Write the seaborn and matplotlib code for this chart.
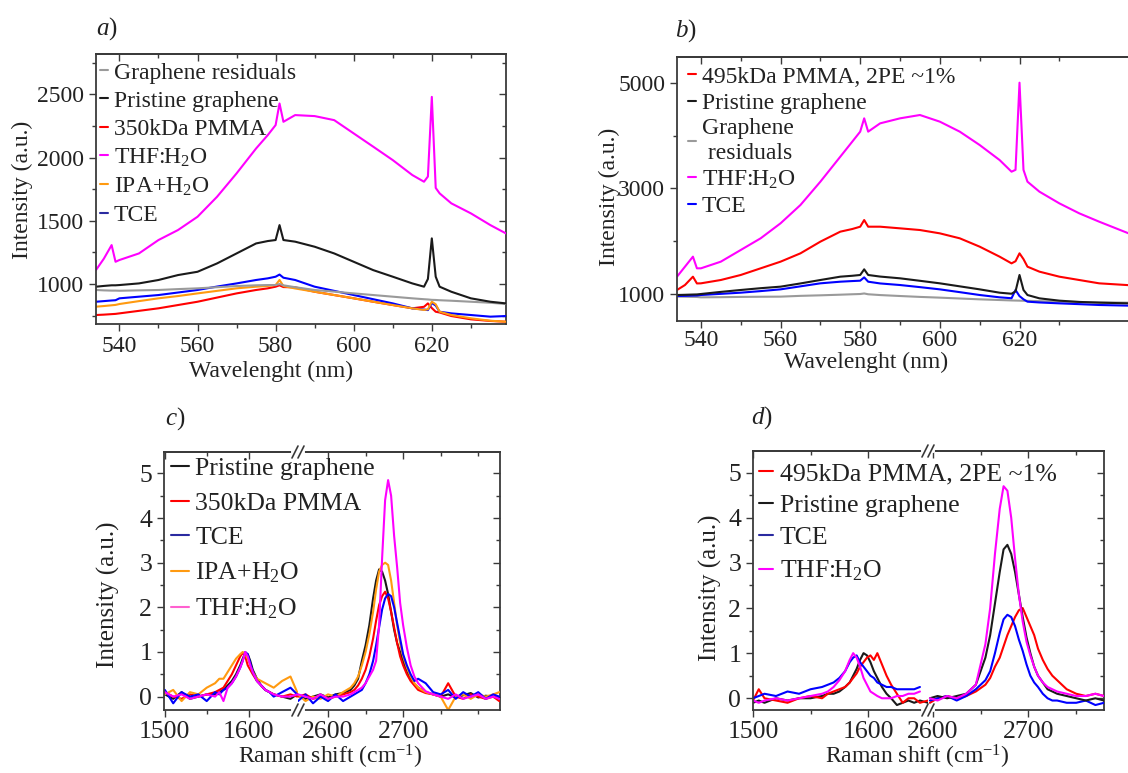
import numpy as np
import matplotlib
matplotlib.use("Agg")
import matplotlib.pyplot as plt
import seaborn as sns
from matplotlib.ticker import FixedLocator
from matplotlib.lines import Line2D

# ---------------- data ----------------
# panel a : PL spectra
A_WL = [534, 536, 538, 539, 540, 545, 550, 555, 560, 565, 570, 575, 578, 580, 581, 582,
        585, 590, 595, 600, 605, 610, 615, 618, 619, 620, 621, 622, 625, 630, 635, 639]
A_THF = [1111, 1200, 1308, 1176, 1190, 1242, 1348, 1427, 1532, 1690, 1875, 2072, 2178, 2257, 2428, 2283,
         2336, 2328, 2296, 2191, 2086, 1980, 1862, 1809, 1850, 2480, 1760, 1717, 1638, 1559, 1466, 1400]
A_PRIS = [979, 985, 990, 990, 992, 1005, 1032, 1071, 1097, 1163, 1242, 1321, 1340, 1348, 1466, 1348,
          1335, 1295, 1242, 1176, 1110, 1058, 1005, 979, 1040, 1361, 1058, 979, 939, 887, 860, 847]
A_RES = [953, 950, 948, 948, 947, 950, 953, 960, 966, 975, 984, 990, 992, 992, 1000, 990,
         975, 953, 940, 926, 913, 900, 887, 880, 878, 875, 874, 872, 868, 860, 852, 842]
A_TCE = [860, 865, 870, 872, 887, 900, 913, 933, 953, 980, 1005, 1032, 1045, 1058, 1075, 1050,
         1032, 979, 946, 913, 880, 847, 808, 798, 794, 850, 830, 781, 768, 755, 742, 747]
A_IPA = [821, 826, 832, 835, 842, 865, 887, 905, 926, 946, 966, 979, 985, 992, 1032, 984,
         965, 939, 913, 887, 860, 834, 808, 795, 800, 860, 840, 781, 755, 729, 710, 702]
A_PMMA = [755, 758, 762, 764, 768, 788, 808, 834, 860, 893, 926, 953, 966, 979, 990, 976,
          974, 939, 913, 887, 860, 834, 808, 820, 847, 810, 781, 775, 747, 721, 708, 702]

# panel b : PL spectra
B_WL = [534, 536, 538, 539, 540, 545, 550, 555, 560, 565, 570, 575, 578, 580, 581, 582,
        585, 590, 595, 600, 605, 610, 615, 618, 619, 620, 621, 622, 625, 630, 635, 640, 649]
B_THF = [1328, 1517, 1707, 1486, 1486, 1612, 1833, 2054, 2338, 2685, 3126, 3599, 3883, 4073, 4325, 4073,
         4230, 4325, 4388, 4262, 4073, 3820, 3536, 3315, 3350, 5000, 3350, 3126, 2937, 2716, 2527, 2369, 2100]
B_PMMA = [1076, 1170, 1328, 1200, 1202, 1265, 1360, 1486, 1612, 1770, 1991, 2180, 2230, 2274, 2400, 2274,
          2274, 2243, 2211, 2148, 2054, 1896, 1707, 1580, 1620, 1770, 1660, 1517, 1423, 1328, 1265, 1202, 1160]
B_PRIS = [981, 985, 990, 992, 1000, 1040, 1076, 1110, 1139, 1200, 1265, 1328, 1345, 1360, 1467, 1360,
          1330, 1297, 1250, 1202, 1145, 1088, 1025, 1005, 1050, 1360, 1076, 981, 918, 874, 850, 836, 820]
B_TCE = [962, 965, 970, 972, 981, 1003, 1025, 1055, 1088, 1145, 1202, 1233, 1245, 1252, 1315, 1233,
         1200, 1170, 1130, 1088, 1035, 981, 937, 920, 1076, 960, 900, 855, 840, 823, 808, 792, 777]
B_RES = [950, 948, 945, 944, 937, 940, 945, 948, 950, 965, 975, 987, 995, 1000, 1010, 995,
         980, 962, 945, 931, 915, 899, 886, 878, 876, 874, 872, 870, 865, 855, 848, 842, 834]

# panel c : Raman, G band and 2D band
C_G = [1500, 1510, 1520, 1530, 1540, 1550, 1560, 1565, 1570, 1575, 1580, 1585, 1590, 1593, 1596,
       1599, 1602, 1605, 1610, 1615, 1620, 1625, 1630, 1640, 1650, 1658]
C_G_PRIS = [0.05, -0.05, 0.1, -0.05, 0.0, 0.05, 0.05, 0.1, 0.15, 0.25, 0.35, 0.5, 0.7, 0.85, 0.97,
            0.95, 0.8, 0.6, 0.4, 0.25, 0.15, 0.1, 0.05, 0.0, -0.05, 0.05]
C_G_PMMA = [0.1, 0.0, -0.05, 0.05, 0.0, 0.05, 0.1, 0.15, 0.2, 0.35, 0.5, 0.7, 0.9, 0.98, 0.9,
            0.7, 0.6, 0.5, 0.35, 0.25, 0.15, 0.1, 0.05, 0.0, 0.05, 0.0]
C_G_TCE = [0.15, -0.15, 0.1, 0.0, 0.05, -0.1, 0.1, 0.05, 0.15, 0.2, 0.3, 0.45, 0.65, 0.8, 1.0,
           0.95, 0.75, 0.55, 0.35, 0.25, 0.15, 0.1, 0.0, 0.1, 0.2, 0.05]
C_G_IPA = [0.05, 0.15, -0.1, 0.1, 0.05, 0.2, 0.3, 0.4, 0.4, 0.55, 0.7, 0.85, 0.95, 1.0, 0.95,
           0.85, 0.7, 0.55, 0.4, 0.35, 0.3, 0.25, 0.2, 0.35, 0.45, 0.1]
C_G_THF = [0.1, 0.0, 0.05, -0.05, 0.0, 0.05, 0.0, 0.1, -0.1, 0.2, 0.3, 0.45, 0.65, 0.8, 1.0,
           0.9, 0.7, 0.55, 0.35, 0.25, 0.15, 0.1, 0.05, 0.0, 0.0, 0.05]

C_2D = [2560, 2570, 2580, 2590, 2600, 2610, 2620, 2630, 2635, 2640, 2645, 2650, 2655, 2660,
        2664, 2668, 2672, 2676, 2680, 2684, 2688, 2692, 2696, 2700, 2705, 2710, 2715, 2720,
        2730, 2740, 2750, 2760, 2770, 2780, 2790, 2800, 2810, 2820, 2828]
C_2D_PRIS = [0.02, -0.05, 0.0, 0.05, -0.02, 0.05, 0.08, 0.15, 0.25, 0.4, 0.8, 1.15, 1.6, 2.2,
             2.6, 2.85, 2.8, 2.6, 2.3, 1.9, 1.5, 1.2, 1.0, 0.8, 0.55, 0.4, 0.28, 0.2,
             0.1, 0.05, 0.0, 0.05, -0.02, 0.03, 0.08, -0.02, 0.02, 0.0, -0.03]
C_2D_PMMA = [0.0, 0.05, -0.05, 0.0, -0.05, 0.0, 0.05, 0.1, 0.15, 0.25, 0.4, 0.6, 0.9, 1.3,
             1.7, 2.05, 2.25, 2.35, 2.2, 1.9, 1.55, 1.2, 0.9, 0.7, 0.5, 0.35, 0.25, 0.15,
             0.08, 0.05, 0.0, 0.3, 0.0, -0.05, 0.05, 0.0, -0.05, 0.0, -0.1]
C_2D_TCE = [-0.1, 0.05, -0.15, 0.0, -0.1, 0.05, -0.1, 0.0, 0.05, 0.1, 0.15, 0.3, 0.5, 0.8,
            1.15, 1.55, 1.95, 2.2, 2.3, 2.25, 2.0, 1.65, 1.3, 0.95, 0.7, 0.5, 0.35, 0.4,
            0.3, 0.1, 0.05, 0.15, -0.05, 0.1, 0.0, 0.1, -0.05, 0.05, 0.0]
C_2D_IPA = [0.05, -0.1, 0.0, -0.05, 0.05, 0.0, 0.1, 0.2, 0.3, 0.45, 0.7, 1.0, 1.4, 1.9,
            2.4, 2.8, 2.95, 3.0, 2.95, 2.6, 2.1, 1.6, 1.2, 0.9, 0.65, 0.45, 0.3, 0.2,
            0.1, 0.05, 0.0, -0.3, 0.0, 0.05, -0.05, 0.05, 0.0, 0.05, 0.1]
C_2D_THF = [0.05, 0.0, -0.05, 0.05, -0.05, 0.0, 0.0, 0.05, 0.1, 0.15, 0.2, 0.3, 0.45, 0.6,
            0.8, 1.6, 3.1, 4.4, 4.85, 4.5, 3.6, 2.9, 2.1, 1.6, 1.1, 0.7, 0.45, 0.3,
            0.12, 0.05, 0.0, -0.05, 0.05, -0.05, 0.0, 0.05, -0.05, 0.0, -0.05]

# panel d : Raman, G band and 2D band
D_G = [1500, 1505, 1510, 1520, 1530, 1540, 1550, 1560, 1565, 1570, 1575, 1580, 1584, 1587, 1590,
       1593, 1596, 1599, 1602, 1605, 1608, 1612, 1616, 1620, 1625, 1630, 1635, 1640, 1645, 1652]
D_G_PMMA = [-0.05, 0.2, 0.0, -0.05, -0.1, 0.0, 0.05, 0.0, 0.1, 0.15, 0.2, 0.25, 0.35, 0.45, 0.55,
            0.7, 0.8, 0.9, 0.95, 0.85, 1.0, 0.75, 0.5, 0.3, 0.1, -0.1, 0.0, 0.0, -0.1, -0.05]
D_G_PRIS = [-0.1, -0.05, -0.1, 0.0, -0.05, 0.0, 0.0, 0.05, 0.1, 0.1, 0.15, 0.25, 0.35, 0.5, 0.65,
            0.85, 1.0, 0.95, 0.8, 0.6, 0.45, 0.25, 0.1, 0.0, -0.15, -0.1, -0.05, -0.1, -0.05, -0.1]
D_G_TCE = [0.0, 0.05, 0.1, 0.05, 0.15, 0.1, 0.2, 0.25, 0.3, 0.35, 0.45, 0.6, 0.8, 0.9, 0.95,
           0.8, 0.7, 0.6, 0.5, 0.45, 0.35, 0.3, 0.25, 0.25, 0.2, 0.2, 0.2, 0.2, 0.25, np.nan]
D_G_THF = [-0.05, -0.1, -0.05, 0.0, -0.05, 0.0, 0.05, 0.1, 0.15, 0.25, 0.4, 0.6, 0.85, 1.0, 0.9,
           0.7, 0.45, 0.3, 0.15, 0.1, 0.05, 0.0, 0.0, 0.0, 0.05, 0.05, 0.1, 0.1, 0.15, np.nan]

D_2D = [2597, 2605, 2615, 2625, 2635, 2645, 2655, 2660, 2665, 2670, 2674, 2678, 2682, 2686, 2690,
        2694, 2698, 2702, 2706, 2710, 2715, 2720, 2725, 2730, 2740, 2750, 2760, 2770, 2779]
D_2D_THF = [0.0, -0.05, 0.05, 0.0, 0.1, 0.3, 1.2, 2.0, 3.2, 4.2, 4.7, 4.6, 4.0, 3.1, 2.3,
            1.7, 1.25, 0.95, 0.7, 0.5, 0.35, 0.25, 0.2, 0.15, 0.1, 0.05, 0.05, 0.1, 0.05]
D_2D_PRIS = [0.0, 0.05, 0.0, 0.05, 0.1, 0.3, 0.9, 1.4, 2.1, 2.8, 3.3, 3.4, 3.2, 2.8, 2.3,
             1.8, 1.35, 1.0, 0.7, 0.5, 0.35, 0.2, 0.15, 0.1, 0.05, 0.0, -0.05, 0.0, -0.05]
D_2D_TCE = [-0.05, 0.0, 0.05, -0.05, 0.05, 0.2, 0.4, 0.6, 1.0, 1.45, 1.75, 1.85, 1.8, 1.6, 1.3,
            1.05, 0.75, 0.5, 0.35, 0.25, 0.1, 0.0, -0.05, -0.05, -0.1, -0.1, -0.05, -0.15, -0.1]
D_2D_PMMA = [-0.1, 0.0, 0.05, 0.0, 0.05, 0.15, 0.3, 0.45, 0.7, 0.9, 1.15, 1.4, 1.6, 1.8, 1.95,
             2.0, 1.8, 1.6, 1.4, 1.1, 0.85, 0.65, 0.5, 0.4, 0.2, 0.1, 0.05, 0.1, 0.05]

# labels
L_RES = "Graphene residuals"
L_PRIS = "Pristine graphene"
L_350 = "350kDa PMMA"
L_495 = "495kDa PMMA, 2PE ~1%"
L_THF = "THF:H$_2$O"
L_IPA = "IPA+H$_2$O"
L_TCE = "TCE"

# ---------------- style ----------------
sns.set_theme(style="ticks")
plt.rcParams["font.family"] = ["Liberation Serif", "DejaVu Serif"]
plt.rcParams["mathtext.fontset"] = "custom"
plt.rcParams["mathtext.rm"] = "Liberation Serif"
plt.rcParams["mathtext.it"] = "Liberation Serif:italic"
plt.rcParams["mathtext.default"] = "regular"

MAG, BLK, RED, BLU, ORG, GRY = "#ff00ff", "#1a1a1a", "#ff0000", "#0000ff", "#ff9a10", "#9a9a9a"
NAVY, PINK = "#2a2aa0", "#ff60d0"
TXT = "#222222"
SPC = "#3a3a3a"
FS = 17        # panels a, b
FS2 = 18.5     # panels c, d (legend and ticks)
LW = 1.5

W, H = 1128, 773
fig = plt.figure(figsize=(W / 100, H / 100), dpi=100)
fig.patch.set_facecolor("white")


def px_axes(x0, y0, x1, y1):
    return fig.add_axes([x0 / W, 1 - y1 / H, (x1 - x0) / W, (y1 - y0) / H])


def line(ax, x, y, color):
    sns.lineplot(x=x, y=y, color=color, lw=LW, ax=ax, sort=False, legend=False)


def style(ax, xmaj, xmin, ymaj, ymin, left=True, right=True, xpad=5, fs=FS):
    ax.xaxis.set_major_locator(FixedLocator(xmaj))
    ax.xaxis.set_minor_locator(FixedLocator(xmin))
    ax.yaxis.set_major_locator(FixedLocator(ymaj))
    ax.yaxis.set_minor_locator(FixedLocator(ymin))
    ax.tick_params(which="both", direction="out", top=False, right=False,
                   left=left, labelleft=left, colors=SPC, labelcolor=TXT,
                   labelsize=fs, width=1.0)
    ax.tick_params(axis="x", pad=xpad)
    ax.tick_params(which="major", length=5)
    ax.tick_params(which="minor", length=3)
    for s in ax.spines.values():
        s.set_color(SPC)
        s.set_linewidth(1.3)
    ax.spines["left"].set_visible(left)
    ax.spines["right"].set_visible(False)
    sx = ax.secondary_xaxis("top")
    sx.xaxis.set_major_locator(FixedLocator(xmaj))
    sx.xaxis.set_minor_locator(FixedLocator(xmin))
    sx.tick_params(which="both", direction="in", labeltop=False, colors=SPC, width=1.0)
    sx.tick_params(which="major", length=5)
    sx.tick_params(which="minor", length=3)
    sx.spines["top"].set_color(SPC)
    sx.spines["top"].set_linewidth(1.3)
    if right:
        sy = ax.secondary_yaxis("right")
        sy.yaxis.set_major_locator(FixedLocator(ymaj))
        sy.yaxis.set_minor_locator(FixedLocator(ymin))
        sy.tick_params(which="both", direction="in", labelright=False, colors=SPC, width=1.0)
        sy.tick_params(which="major", length=5)
        sy.tick_params(which="minor", length=3)
        sy.spines["right"].set_color(SPC)
        sy.spines["right"].set_linewidth(1.3)


def legend(ax, entries, x, y, hl, ls, fs=FS):
    handles = [Line2D([], [], color=c, lw=LW) for _, c in entries]
    labels = [t for t, _ in entries]
    lg = ax.legend(handles, labels, loc="upper left", bbox_to_anchor=(x / W, 1 - y / H),
                   bbox_transform=fig.transFigure, frameon=False, fontsize=fs,
                   handlelength=hl, handletextpad=0.25, labelspacing=ls,
                   borderpad=0, borderaxespad=0)
    for t in lg.get_texts():
        t.set_color(TXT)
    lg.set_zorder(10)
    return lg


def ftext(x, y, s, fs=FS, **kw):
    fig.text(x / W, 1 - y / H, s, color=TXT, fontsize=fs, ha="center", va="center", **kw)


def break_marks(xp, ytop, ybot):
    for yp in (ytop, ybot):
        fig.add_artist(Line2D([(xp - 5) / W, (xp + 5) / W], [1 - yp / H, 1 - yp / H],
                              color="white", lw=3, transform=fig.transFigure, zorder=20))
        for dx in (-3, 3):
            fig.add_artist(Line2D([(xp + dx - 3) / W, (xp + dx + 3) / W],
                                  [1 - (yp + 6) / H, 1 - (yp - 6) / H],
                                  color=SPC, lw=1.2, transform=fig.transFigure, zorder=21))


# ---------------- panel a ----------------
axA = px_axes(96, 54, 506, 324)
for y, c in [(A_PMMA, RED), (A_TCE, BLU), (A_IPA, ORG), (A_RES, GRY), (A_PRIS, BLK), (A_THF, MAG)]:
    line(axA, A_WL, y, c)
axA.set_xlim(534, 639)
axA.set_ylim(684, 2819)
style(axA, [540, 560, 580, 600, 620], list(range(530, 640, 10)),
      [1000, 1500, 2000, 2500], list(range(750, 2800, 250)), xpad=4)
axA.set_xlabel("")
axA.set_ylabel("")
legend(axA, [(L_RES, GRY), (L_PRIS, BLK), (L_350, RED), (L_THF, MAG), (L_IPA, ORG), (L_TCE, NAVY)],
       100, 62, 0.33, 0.28)

# ---------------- panel b ----------------
axB = px_axes(677, 57, 1135, 321)
for y, c in [(B_RES, GRY), (B_TCE, BLU), (B_PRIS, BLK), (B_PMMA, RED), (B_THF, MAG)]:
    line(axB, B_WL, y, c)
axB.set_xlim(534, 649)
axB.set_ylim(489, 5486)
style(axB, [540, 560, 580, 600, 620], list(range(530, 640, 10)),
      [1000, 3000, 5000], [2000, 4000], right=False, xpad=1.5)
axB.set_xlabel("")
axB.set_ylabel("")
legend(axB, [(L_495, RED), (L_PRIS, BLK), ("Graphene\n residuals", GRY), (L_THF, MAG), (L_TCE, BLU)],
       688, 66, 0.33, 0.2)

# ---------------- panel c ----------------
axC1 = px_axes(164, 452, 298, 710)
axC2 = px_axes(298, 452, 500, 710)
for y, c in [(C_G_PRIS, BLK), (C_G_PMMA, RED), (C_G_IPA, ORG), (C_G_TCE, BLU), (C_G_THF, MAG)]:
    line(axC1, C_G, y, c)
for y, c in [(C_2D_PRIS, BLK), (C_2D_PMMA, RED), (C_2D_IPA, ORG), (C_2D_TCE, BLU), (C_2D_THF, MAG)]:
    line(axC2, C_2D, y, c)
axC1.set_xlim(1499, 1659)
axC2.set_xlim(2560, 2829)
for ax in (axC1, axC2):
    ax.set_ylim(-0.30, 5.48)
    ax.set_xlabel("")
    ax.set_ylabel("")
style(axC1, [1500, 1600], [1550], [0, 1, 2, 3, 4, 5], [0.5, 1.5, 2.5, 3.5, 4.5],
      right=False, xpad=3, fs=FS2)
style(axC2, [2600, 2700], [2650, 2750, 2800], [0, 1, 2, 3, 4, 5], [0.5, 1.5, 2.5, 3.5, 4.5],
      left=False, xpad=3, fs=FS2)
axC1.set_zorder(3)
legend(axC1, [(L_PRIS, BLK), (L_350, RED), (L_TCE, NAVY), (L_IPA, ORG), (L_THF, PINK)],
       171, 457, 0.7, 0.45, fs=FS2)
break_marks(298, 452, 710)

# ---------------- panel d ----------------
axD1 = px_axes(753, 451, 928, 710)
axD2 = px_axes(928, 451, 1104, 710)
for y, c in [(D_G_PRIS, BLK), (D_G_PMMA, RED), (D_G_TCE, BLU), (D_G_THF, MAG)]:
    line(axD1, D_G, y, c)
for y, c in [(D_2D_PMMA, RED), (D_2D_TCE, BLU), (D_2D_PRIS, BLK), (D_2D_THF, MAG)]:
    line(axD2, D_2D, y, c)
axD1.set_xlim(1500, 1652)
axD2.set_xlim(2595, 2779)
for ax in (axD1, axD2):
    ax.set_ylim(-0.26, 5.48)
    ax.set_xlabel("")
    ax.set_ylabel("")
style(axD1, [1500, 1600], [1550], [0, 1, 2, 3, 4, 5], [0.5, 1.5, 2.5, 3.5, 4.5],
      right=False, xpad=3, fs=FS2)
style(axD2, [2600, 2700], [2650, 2750], [0, 1, 2, 3, 4, 5], [0.5, 1.5, 2.5, 3.5, 4.5],
      left=False, xpad=3, fs=FS2)
axD1.set_zorder(3)
legend(axD1, [(L_495, RED), (L_PRIS, BLK), (L_TCE, NAVY), (L_THF, MAG)],
       759, 462, 0.55, 0.36, fs=FS2)
break_marks(928, 451, 710)

# ---------------- axis titles & panel letters ----------------
ftext(271, 371, "Wavelenght (nm)")
ftext(866, 362, "Wavelenght (nm)")
ftext(330, 757, "Raman shift (cm$^{-1}$)", fs=17)
ftext(917, 757, "Raman shift (cm$^{-1}$)", fs=17)
ftext(22, 190, "Intensity (a.u.)", rotation=90)
ftext(609, 197, "Intensity (a.u.)", rotation=90)
ftext(108, 595, "Intensity (a.u.)", fs=18, rotation=90)
ftext(710, 588, "Intensity (a.u.)", fs=18, rotation=90)
for (x, y, s) in [(107, 29, "$\\mathit{a}$)"), (686, 31, "$\\mathit{b}$)"),
                  (175, 419, "$\\mathit{c}$)"), (762, 418, "$\\mathit{d}$)")]:
    fig.text(x / W, 1 - y / H, s, fontsize=18, color=TXT, ha="center", va="center")

fig.savefig("out.png", dpi=100, facecolor="white")
